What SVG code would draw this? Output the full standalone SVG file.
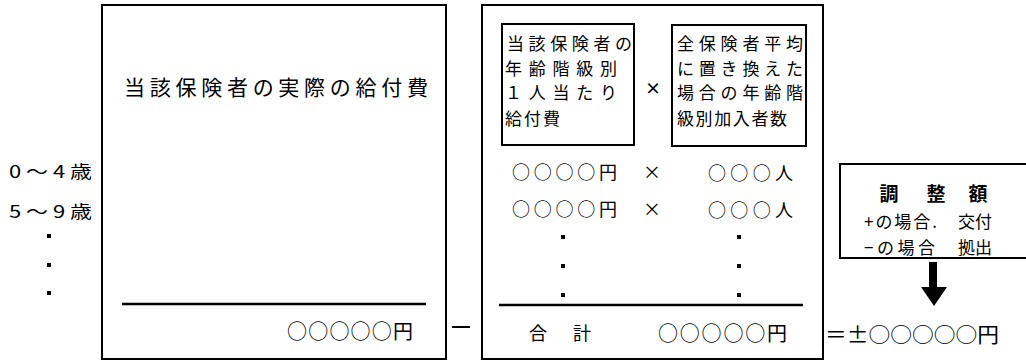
<svg xmlns="http://www.w3.org/2000/svg" width="1026" height="361" viewBox="0 0 1026 361">
<style>
text{font-family:"Noto Sans CJK JP","Noto Sans CJK SC",sans-serif;fill:#000;dominant-baseline:central}
.box{fill:none;stroke:#000;stroke-width:2}
.ibox{fill:none;stroke:#000;stroke-width:2}
.rule{stroke:#000;stroke-width:2.5}
.dot{fill:#000}
.t17{font-size:17px}
.t18{font-size:18px}
.t20{font-size:20px}
.b{font-weight:bold}
</style>
<rect width="1026" height="361" fill="#fff"/>
<g id="age-labels">
<text x="9" y="170" class="t17" textLength="83" lengthAdjust="spacingAndGlyphs">0 ～ 4 歳</text>
<text x="9" y="210" class="t17" textLength="83" lengthAdjust="spacingAndGlyphs">5 ～ 9 歳</text>
<rect class="dot" x="47" y="234" width="4" height="4"/>
<rect class="dot" x="47" y="263" width="4" height="4"/>
<rect class="dot" x="47" y="291" width="4" height="4"/>
</g>
<g id="actual-cost">
<rect class="box" x="102" y="5" width="344" height="354"/>
<text x="124" y="86" style="font-size:21px" textLength="304" lengthAdjust="spacing">当該保険者の実際の給付費</text>
<line class="rule" x1="122" y1="304" x2="426" y2="304"/>
<text x="287" y="330" class="t20" textLength="126" lengthAdjust="spacing">○○○○○円</text>
</g>
<g id="minus-op">
<line x1="452" y1="327" x2="470" y2="327" stroke="#000" stroke-width="2"/>
</g>
<g id="standard-cost">
<rect class="box" x="482" y="5" width="341" height="354"/>
<g id="per-capita-box">
<rect class="ibox" x="502" y="24" width="132" height="121"/>
<text x="507" y="42" class="t17" textLength="125" lengthAdjust="spacing">当該保険者の</text>
<text x="505" y="67" class="t17" textLength="112" lengthAdjust="spacing">年齢階級別</text>
<text x="505" y="91" class="t17" textLength="112" lengthAdjust="spacing">１人当たり</text>
<text x="505" y="117" class="t17" textLength="55" lengthAdjust="spacing">給付費</text>
</g>
<text x="653" y="87" class="b" style="font-size:16px" text-anchor="middle">×</text>
<g id="enrollee-box">
<rect class="ibox" x="672" y="25" width="134" height="121"/>
<text x="677" y="42" class="t17" textLength="126" lengthAdjust="spacing">全保険者平均</text>
<text x="677" y="67" class="t17" textLength="126" lengthAdjust="spacing">に置き換えた</text>
<text x="677" y="91" class="t17" textLength="126" lengthAdjust="spacing">場合の年齢階</text>
<text x="677" y="117" class="t17" textLength="110" lengthAdjust="spacing">級別加入者数</text>
</g>
<text x="512" y="171" class="t18" textLength="105" lengthAdjust="spacing">○○○○円</text>
<text x="652" y="171" class="t18" text-anchor="middle">×</text>
<text x="708" y="172" class="t18" textLength="85" lengthAdjust="spacing">○○○人</text>
<text x="512" y="208" class="t18" textLength="105" lengthAdjust="spacing">○○○○円</text>
<text x="652" y="208" class="t18" text-anchor="middle">×</text>
<text x="708" y="209" class="t18" textLength="85" lengthAdjust="spacing">○○○人</text>
<rect class="dot" x="561" y="235" width="4" height="4"/>
<rect class="dot" x="561" y="264" width="4" height="4"/>
<rect class="dot" x="561" y="293" width="4" height="4"/>
<rect class="dot" x="737" y="235" width="4" height="4"/>
<rect class="dot" x="737" y="264" width="4" height="4"/>
<rect class="dot" x="737" y="293" width="4" height="4"/>
<line class="rule" x1="499" y1="305" x2="803" y2="305"/>
<text x="529" y="332" class="t18" textLength="62" lengthAdjust="spacing">合　計</text>
<text x="658" y="332" class="t20" textLength="129" lengthAdjust="spacing">○○○○○円</text>
</g>
<g id="result">
<text x="825" y="333" style="font-size:21px" textLength="174" lengthAdjust="spacingAndGlyphs">＝±○○○○○円</text>
</g>
<g id="adjustment-box">
<rect class="box" x="840" y="164" width="200" height="94"/>
<text x="889" y="192" class="b" style="font-size:19px" text-anchor="middle">調</text>
<text x="936" y="192" class="b" style="font-size:19px" text-anchor="middle">整</text>
<text x="978" y="192" class="b" style="font-size:19px" text-anchor="middle">額</text>
<text x="864" y="220" class="t17" textLength="73" lengthAdjust="spacing">+の場合.</text>
<text x="958" y="220" class="t17" textLength="34" lengthAdjust="spacing">交付</text>
<text x="864" y="246" class="t17" textLength="71" lengthAdjust="spacing">−の場合</text>
<text x="958" y="246" class="t17" textLength="34" lengthAdjust="spacing">拠出</text>
</g>
<g id="connectors">
<path d="M929 262 H937 V287 H947 L934 306 L921 287 H929 Z" fill="#000"/>
</g>
</svg>
